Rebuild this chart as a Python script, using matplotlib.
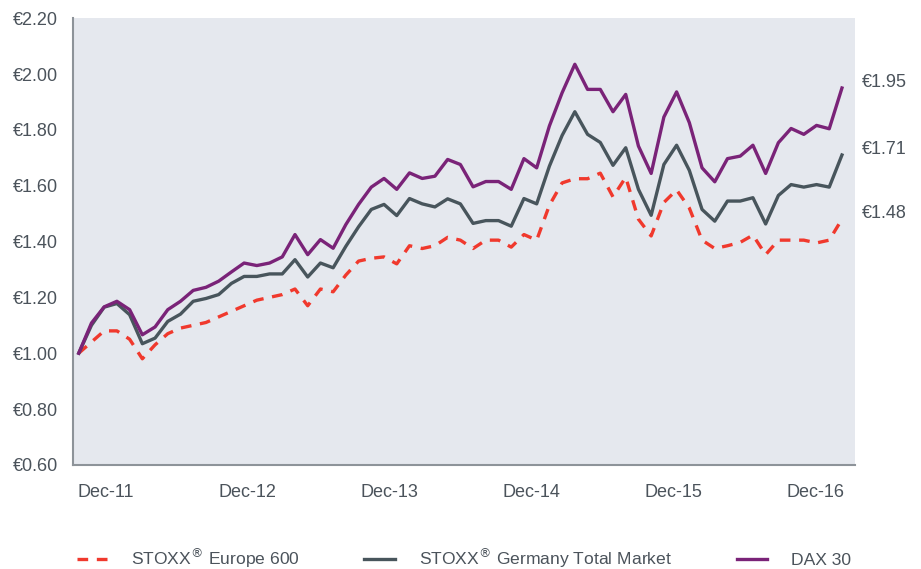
import matplotlib.pyplot as plt
import numpy as np

plt.rcParams['font.family'] = ['Liberation Sans', 'DejaVu Sans']

# monthly index values, rebased to 1.00 at Dec-11 (Dec-11 .. Dec-16)
stoxx_europe_600 = [
    1.00, 1.04, 1.08, 1.08, 1.05, 0.98, 1.03, 1.07, 1.09, 1.10,
    1.11, 1.13, 1.15, 1.17, 1.19, 1.20, 1.21, 1.23, 1.17, 1.23,
    1.22, 1.28, 1.33, 1.34, 1.345, 1.32, 1.385, 1.375, 1.385, 1.415,
    1.405, 1.375, 1.405, 1.405, 1.38, 1.425, 1.405, 1.53, 1.61, 1.625,
    1.625, 1.645, 1.56, 1.63, 1.48, 1.42, 1.54, 1.585, 1.52, 1.405,
    1.375, 1.385, 1.397, 1.423, 1.353, 1.405, 1.405, 1.405, 1.395, 1.405,
    1.48,
]
stoxx_germany_tm = [
    1.00, 1.10, 1.165, 1.178, 1.138, 1.034, 1.054, 1.114, 1.14, 1.186,
    1.196, 1.21, 1.25, 1.275, 1.275, 1.284, 1.284, 1.335, 1.273, 1.323,
    1.306, 1.383, 1.453, 1.515, 1.533, 1.493, 1.554, 1.535, 1.524, 1.553,
    1.535, 1.465, 1.475, 1.475, 1.455, 1.554, 1.535, 1.67, 1.78, 1.865,
    1.784, 1.755, 1.673, 1.736, 1.587, 1.494, 1.676, 1.745, 1.655, 1.515,
    1.473, 1.545, 1.545, 1.557, 1.463, 1.565, 1.604, 1.595, 1.604, 1.595,
    1.71,
]
dax_30 = [
    1.00, 1.108, 1.166, 1.186, 1.156, 1.066, 1.094, 1.156, 1.186, 1.225,
    1.236, 1.258, 1.291, 1.323, 1.314, 1.323, 1.345, 1.425, 1.353, 1.407,
    1.376, 1.461, 1.533, 1.595, 1.626, 1.587, 1.646, 1.626, 1.634, 1.694,
    1.676, 1.596, 1.615, 1.615, 1.587, 1.697, 1.664, 1.814, 1.933, 2.035,
    1.945, 1.945, 1.865, 1.927, 1.742, 1.644, 1.846, 1.936, 1.826, 1.664,
    1.614, 1.697, 1.706, 1.745, 1.644, 1.754, 1.805, 1.784, 1.816, 1.804,
    1.95,
]
year_labels = ['Dec-11', 'Dec-12', 'Dec-13', 'Dec-14', 'Dec-15', 'Dec-16']
end_labels = ['€1.95', '€1.71', '€1.48']

txt = '#4b535b'
bg = '#e5e8ee'
fs = 13

fig = plt.figure(figsize=(9.21, 5.69), dpi=100)
ax = fig.add_axes([0.079, 0.183, 0.849, 0.785])
ax.set_facecolor(bg)

x = np.arange(len(dax_30))
l_eu, = ax.plot(x, stoxx_europe_600, color='#f0392d', lw=2.4, dashes=(3.2, 2.6))
l_de, = ax.plot(x, stoxx_germany_tm, color='#48555c', lw=2.4)
l_dax, = ax.plot(x, dax_30, color='#7a2378', lw=2.4)

ax.set_xlim(-0.47, 61.0)
ax.set_ylim(0.6, 2.2)
ax.set_yticks(np.arange(0.6, 2.21, 0.2))
ax.set_yticklabels(['€%.2f' % v for v in np.arange(0.6, 2.21, 0.2)])
ax.set_xticks(np.linspace(2.1, 57.9, len(year_labels)))
ax.set_xticklabels(year_labels)
ax.tick_params(axis='both', length=0, labelsize=fs, colors=txt)
ax.tick_params(axis='x', pad=14)
ax.tick_params(axis='y', pad=10.5)

for s in ['top', 'right']:
    ax.spines[s].set_visible(False)
for s in ['left', 'bottom']:
    ax.spines[s].set_color('#8d9399')
    ax.spines[s].set_linewidth(1.5)

# closing values written to the right of the plot area
for series, lab in zip([dax_30, stoxx_germany_tm, stoxx_europe_600], end_labels):
    ax.annotate(lab, xy=(1.0, series[-1]), xycoords=('axes fraction', 'data'),
                xytext=(5, 4), textcoords='offset points',
                ha='left', va='center', fontsize=fs, color=txt, annotation_clip=False)

fig.legend([l_eu, l_de, l_dax],
           ['STOXX$^{®}$ Europe 600', 'STOXX$^{®}$ Germany Total Market', 'DAX 30'],
           loc='lower left', bbox_to_anchor=(0.066, -0.03), ncol=3, frameon=False,
           fontsize=12.6, labelcolor=txt, handlelength=1.75, handletextpad=1.35,
           columnspacing=3.7)

fig.savefig('out.png', dpi=100)
